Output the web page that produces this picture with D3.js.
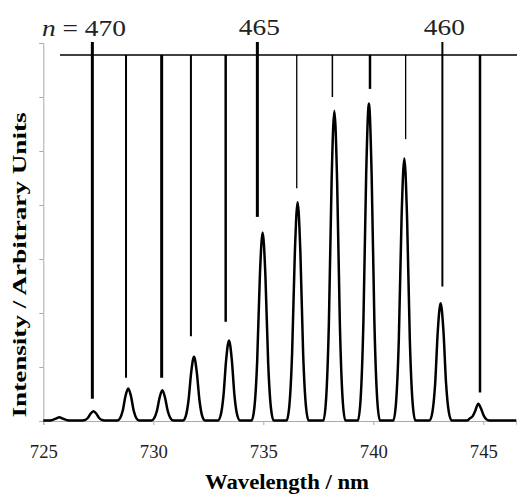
<!DOCTYPE html>
<html>
<head>
<meta charset="utf-8">
<script src="https://cdn.jsdelivr.net/npm/d3@7"></script>
<style>
  body { margin: 0; background: #fff; }
  svg { display: block; }
</style>
</head>
<body>
<div id="chart"></div>
<script>
// spectrum (nm, arbitrary units)
var wavelengths = [
  725.00,
  725.23, 725.355, 725.48, 725.605, 725.73, 725.855, 725.98, 726.105, 726.23,
  726.78, 726.905, 727.03, 727.155, 727.28, 727.405, 727.53, 727.655, 727.78,
  728.36, 728.485, 728.61, 728.735, 728.86, 728.985, 729.11, 729.235, 729.36,
  729.91, 730.035, 730.16, 730.285, 730.41, 730.535, 730.66, 730.785, 730.91,
  731.35, 731.475, 731.60, 731.725, 731.85, 731.975, 732.10, 732.225, 732.35,
  732.94, 733.065, 733.19, 733.315, 733.44, 733.565, 733.69, 733.815, 733.94,
  734.47, 734.595, 734.72, 734.845, 734.97, 735.095, 735.22, 735.345, 735.47,
  736.06, 736.185, 736.31, 736.435, 736.56, 736.685, 736.81, 736.935, 737.06,
  737.73, 737.855, 737.98, 738.105, 738.23, 738.355, 738.48, 738.605, 738.73,
  739.30, 739.425, 739.55, 739.675, 739.80, 739.925, 740.05, 740.175, 740.30,
  740.91, 741.035, 741.16, 741.285, 741.41, 741.535, 741.66, 741.785, 741.91,
  742.56, 742.685, 742.81, 742.935, 743.06, 743.185, 743.31, 743.435, 743.56,
  744.27, 744.395, 744.52, 744.645, 744.77, 744.895, 745.02, 745.145, 745.27,
  746.50
];
var intensities = [
  0.01,
  0.01, 0.014, 0.03, 0.05, 0.07, 0.05, 0.03, 0.014, 0.01,
  0.01, 0.02, 0.06, 0.14, 0.18, 0.14, 0.06, 0.02, 0.01,
  0.01, 0.05, 0.19, 0.46, 0.60, 0.46, 0.19, 0.05, 0.01,
  0.01, 0.05, 0.18, 0.43, 0.57, 0.43, 0.18, 0.05, 0.01,
  0.01, 0.09, 0.38, 0.91, 1.19, 0.91, 0.38, 0.09, 0.01,
  0.01, 0.11, 0.47, 1.15, 1.49, 1.15, 0.47, 0.11, 0.01,
  0.01, 0.25, 1.09, 2.70, 3.49, 2.70, 1.09, 0.25, 0.01,
  0.01, 0.29, 1.26, 3.13, 4.05, 3.13, 1.26, 0.29, 0.01,
  0.01, 0.41, 1.79, 4.45, 5.74, 4.45, 1.79, 0.41, 0.01,
  0.01, 0.42, 1.83, 4.55, 5.88, 4.55, 1.83, 0.42, 0.01,
  0.01, 0.35, 1.51, 3.76, 4.86, 3.76, 1.51, 0.35, 0.01,
  0.01, 0.16, 0.68, 1.69, 2.18, 1.69, 0.68, 0.16, 0.01,
  0.01, 0.05, 0.09, 0.20, 0.32, 0.23, 0.10, 0.03, 0.01,
  0.01
];

// assignment lines: n, wavelength, lower end (intensity)
var lineN = [470, 469, 468, 467, 466, 465, 464, 463, 462, 461, 460, 459];
var lineWavelength = [727.23, 728.76, 730.38, 731.71, 733.29, 734.73,
                      736.52, 738.14, 739.85, 741.47, 743.14, 744.85];
var lineBottom = [0.41, 0.80, 0.80, 1.57, 1.84, 3.78,
                  4.31, 6.00, 6.15, 5.22, 2.49, 0.53];
var labelledN = [470, 465, 460];

var xTicks = [725, 730, 735, 740, 745];
var yTicks = [0, 1, 2, 3, 4, 5, 6, 7];

// stroke weights of the assignment lines (style only)
var lineWeights = [3, 2, 3, 2, 2.5, 3, 1.3, 1.5, 2.5, 1.3, 2, 2.5];

var width = 517, height = 494;
var serif = "'Liberation Serif', 'Times New Roman', serif";

var svg = d3.select("#chart")
    .append("svg")
    .attr("width", width)
    .attr("height", height);

var x = d3.scaleLinear().domain([725, 746.5]).range([43.3, 516.3]);
var y = d3.scaleLinear().domain([0, 7]).range([421, 43]);

// y axis (no labels)
var yAxis = svg.append("g")
    .attr("transform", "translate(" + x(725) + ",0)")
    .call(d3.axisLeft(y).tickValues(yTicks).tickSize(4).tickFormat(""));
yAxis.selectAll("path, line").attr("stroke", "#aaa");

// x axis
var xAxis = svg.append("g")
    .attr("transform", "translate(0," + y(0) + ")")
    .call(d3.axisBottom(x).tickValues(xTicks).tickSize(4).tickPadding(20));
xAxis.selectAll("path, line").attr("stroke", "#aaa");
xAxis.selectAll("text")
    .style("font-family", serif)
    .style("font-size", "19px")
    .attr("fill", "#222")
    .attr("textLength", 28)
    .attr("lengthAdjust", "spacingAndGlyphs");

// top connecting line
var topLevel = 6.78;
svg.append("line")
    .attr("x1", 60).attr("x2", width)
    .attr("y1", y(topLevel)).attr("y2", y(topLevel))
    .attr("stroke", "#000")
    .attr("stroke-width", 1.5);

// vertical assignment lines
svg.selectAll(".assign")
    .data(lineN)
    .enter()
    .append("line")
    .attr("class", "assign")
    .attr("x1", function (d, i) { return x(lineWavelength[i]); })
    .attr("x2", function (d, i) { return x(lineWavelength[i]); })
    .attr("y1", function (d) { return labelledN.indexOf(d) >= 0 ? y(7) - 1 : y(topLevel); })
    .attr("y2", function (d, i) { return y(lineBottom[i]); })
    .attr("stroke", "#000")
    .attr("stroke-width", function (d, i) { return lineWeights[i]; });

// spectrum
var points = wavelengths.map(function (w, i) { return [w, intensities[i]]; });
var line = d3.line()
    .x(function (d) { return x(d[0]); })
    .y(function (d) { return y(d[1]); })
    .curve(d3.curveMonotoneX);

svg.append("path")
    .datum(points)
    .attr("fill", "none")
    .attr("stroke", "#000")
    .attr("stroke-width", 2.5)
    .attr("stroke-linejoin", "round")
    .attr("d", line);

// n labels
var nLabel = svg.append("text")
    .attr("x", 42)
    .attr("y", 36)
    .style("font-family", serif)
    .style("font-size", "24px")
    .attr("fill", "#222")
    .attr("textLength", 84)
    .attr("lengthAdjust", "spacingAndGlyphs");
nLabel.append("tspan").style("font-style", "italic").text("n");
nLabel.append("tspan").text(" = " + labelledN[0]);

svg.selectAll(".nlab")
    .data(labelledN.slice(1))
    .enter()
    .append("text")
    .attr("class", "nlab")
    .attr("x", function (d) { return x(lineWavelength[lineN.indexOf(d)]) + 2; })
    .attr("y", 35)
    .attr("text-anchor", "middle")
    .style("font-family", serif)
    .style("font-size", "23px")
    .attr("fill", "#222")
    .attr("textLength", 41)
    .attr("lengthAdjust", "spacingAndGlyphs")
    .text(function (d) { return d; });

// axis titles
svg.append("text")
    .attr("x", 287)
    .attr("y", 489)
    .attr("text-anchor", "middle")
    .style("font-family", serif)
    .style("font-weight", "bold")
    .style("font-size", "20px")
    .attr("textLength", 164)
    .attr("lengthAdjust", "spacingAndGlyphs")
    .text("Wavelength / nm");

svg.append("text")
    .attr("transform", "translate(26,265) rotate(-90)")
    .attr("text-anchor", "middle")
    .style("font-family", serif)
    .style("font-weight", "bold")
    .style("font-size", "19px")
    .attr("textLength", 305)
    .attr("lengthAdjust", "spacingAndGlyphs")
    .text("Intensity / Arbitrary Units");
</script>
</body>
</html>
